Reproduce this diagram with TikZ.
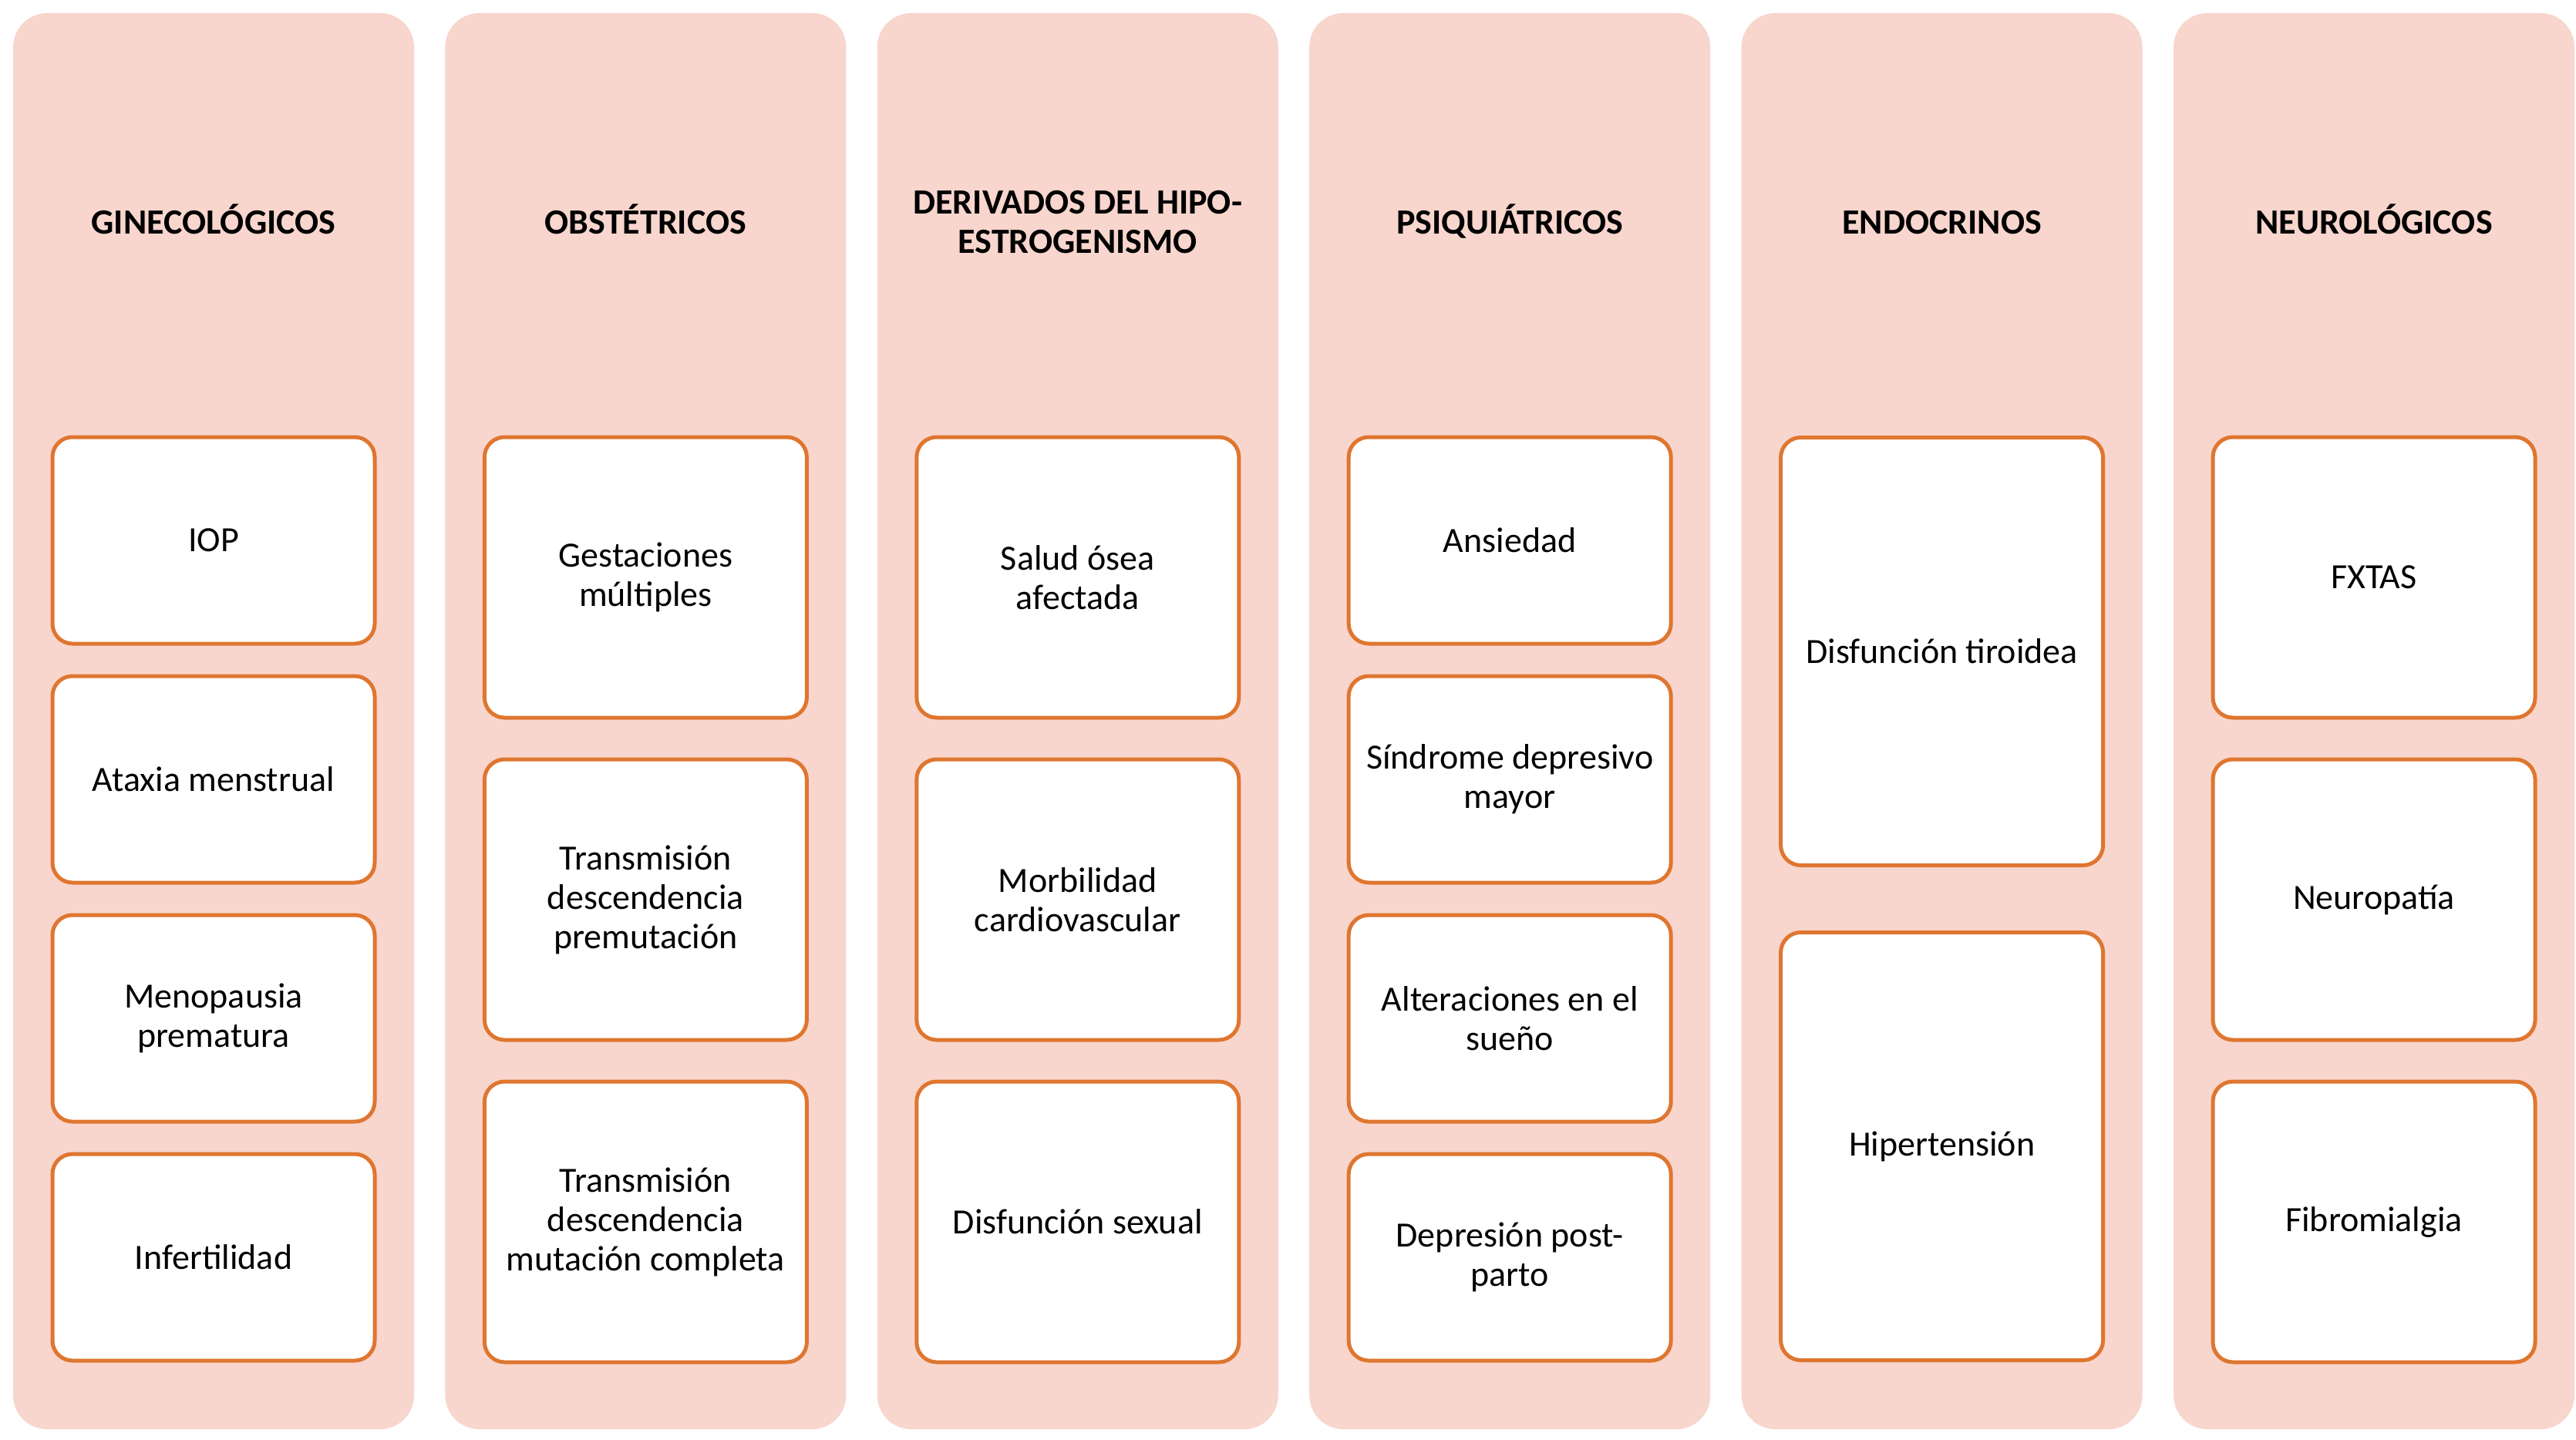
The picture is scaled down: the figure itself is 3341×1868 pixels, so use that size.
\documentclass[tikz,border=0pt]{standalone}
\usepackage{fontspec}
\setmainfont{Carlito}
\definecolor{colfill}{HTML}{F8D6CD}
\definecolor{boxline}{HTML}{DF7630}
\begin{document}
\begin{tikzpicture}[x=1pt,y=-1pt,
 colbox/.style={fill=colfill, draw=none, rounded corners=44pt, minimum width=520pt, minimum height=1837pt, inner sep=0pt},
 itembox/.style={fill=white, draw=boxline, line width=5pt, rounded corners=26pt, minimum width=418pt, inner sep=0pt, align=center, font=\fontsize{46}{51}\selectfont},
 boxA/.style={itembox, minimum height=268pt},
 boxB/.style={itembox, minimum height=364pt},
 boxC/.style={itembox, minimum height=555pt},
 headtext/.style={align=center, font=\bfseries\fontsize{46}{51}\selectfont},
 headone/.style={headtext, anchor=base}]
\fill[white] (0,0) rectangle (3341,1868);
\useasboundingbox (0,0) rectangle (3341,1868);
% columns
\node[colbox] (c1) at (277,935.5) {};
\node[colbox] (c2) at (837.4,935.5) {};
\node[colbox] (c3) at (1397.8,935.5) {};
\node[colbox] (c4) at (1958.2,935.5) {};
\node[colbox] (c5) at (2518.6,935.5) {};
\node[colbox] (c6) at (3079,935.5) {};
% headers
\node[headone] (h1) at (277,303) {GINECOLÓGICOS};
\node[headone] (h2) at (837.4,303) {OBSTÉTRICOS};
\node[headtext] (h3) at (1397.8,288) {DERIVADOS DEL HIPO-\\ESTROGENISMO};
\node[headone] (h4) at (1958.2,303) {PSIQUIÁTRICOS};
\node[headone] (h5) at (2518.6,303) {ENDOCRINOS};
\node[headone] (h6) at (3079,303) {NEUROLÓGICOS};
% column 1
\node[boxA] (a1) at (277,701) {IOP};
\node[boxA] (a2) at (277,1011) {Ataxia menstrual};
\node[boxA] (a3) at (277,1321) {Menopausia\\prematura};
\node[boxA] (a4) at (277,1631) {Infertilidad};
% column 2
\node[boxB] (b1) at (837.4,749) {Gestaciones\\múltiples};
\node[boxB] (b2) at (837.4,1167) {Transmisión\\descendencia\\premutación};
\node[boxB] (b3) at (837.4,1585) {Transmisión\\descendencia\\mutación completa};
% column 3
\node[boxB] (d1) at (1397.8,749) {Salud ósea\\afectada};
\node[boxB] (d2) at (1397.8,1167) {Morbilidad\\cardiovascular};
\node[boxB] (d3) at (1397.8,1585) {Disfunción sexual};
% column 4
\node[boxA] (p1) at (1958.2,701) {Ansiedad};
\node[boxA] (p2) at (1958.2,1011) {Síndrome depresivo\\mayor};
\node[boxA] (p3) at (1958.2,1321) {Alteraciones en el\\sueño};
\node[boxA] (p4) at (1958.2,1631) {Depresión post-\\parto};
% column 5
\node[boxC] (e1) at (2518.6,845) {Disfunción tiroidea};
\node[boxC] (e2) at (2518.6,1487) {Hipertensión};
% column 6
\node[boxB] (n1) at (3079,749) {FXTAS};
\node[boxB] (n2) at (3079,1167) {Neuropatía};
\node[boxB] (n3) at (3079,1585) {Fibromialgia};
\end{tikzpicture}
\end{document}
